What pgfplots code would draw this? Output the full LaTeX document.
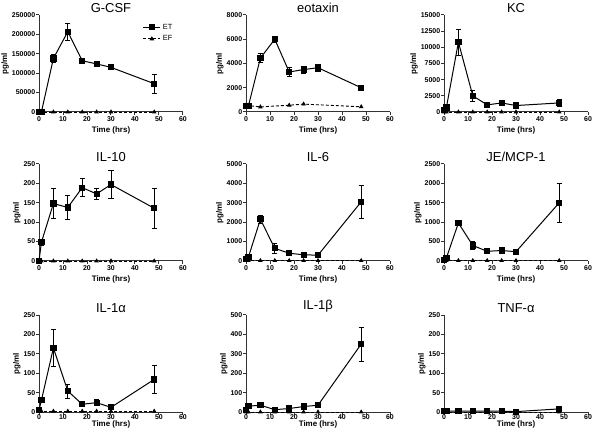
\documentclass[border=0pt]{standalone}
\usepackage{pgfplots}
\pgfplotsset{compat=1.18}
\usepackage{fontspec}
\setmainfont{Liberation Sans}
\pgfplotsset{
  panel/.style={
    scale only axis, width=144bp, height=97bp,
    axis lines=left, xmin=0, xmax=60, ymin=0,
    xtick={0,10,20,30,40,50,60},
    xticklabels={0,10,20,30,40,50,60},
    scaled y ticks=false, scaled x ticks=false,
    tick align=outside, major tick length=3bp,
    axis line style={line width=1pt, -, black!80},
    every tick/.style={line width=1pt, black!80},
    tick label style={font=\bfseries\fontsize{7}{8}\selectfont},
    yticklabel style={inner sep=0.6bp},
    xticklabel style={inner sep=1bp},
    label style={font=\bfseries\fontsize{8}{9}\selectfont},
    title style={font=\fontsize{13}{14}\selectfont, yshift=-7bp},
    xlabel={Time (hrs)}, ylabel={pg/ml},
    xlabel style={yshift=-1.5bp},
    ylabel style={yshift=-1bp},
    clip=false,
  },
  lastrow/.style={
    xticklabel style={yshift=1.5bp},
    xlabel style={yshift=5bp},
  },
  et/.style={black, solid, line width=1pt, mark=square*, mark size=2.6bp,
    mark options={solid},
    error bars/.cd, y dir=both, y explicit,
    error bar style={line width=0.8pt, solid},
    error mark options={rotate=90, mark size=2.6bp, line width=0.8pt}},
  ef/.style={black, dash pattern=on 3bp off 2bp, line width=0.9pt, mark=triangle*, mark size=1.8bp,
    mark options={solid}},
}
\begin{document}
\begin{tikzpicture}
\path[use as bounding box] (0bp,0bp) rectangle (593bp,435bp);
% ---------- Row 1 ----------
\begin{axis}[panel, at={(39bp,323bp)}, anchor=south west, title={G-CSF},
  ymax=250000, ytick={0,50000,100000,150000,200000,250000},
  yticklabels={0,50000,100000,150000,200000,250000},
  legend style={draw=none, fill=none, at={(0.72,0.93)}, anchor=north west,
    font=\fontsize{7.5}{8.5}\selectfont, row sep=1bp, inner sep=0pt},
  legend cell align=left]
\addplot[et] table[x=x,y=y,y error=e] {
x y e
0 0 0
1 0 0
6 138000 10000
12 207000 22000
18 132000 6000
24 124000 2000
30 115000 2000
48 73000 24000
};
\addlegendentry{ET}
\addplot[ef] table[x=x,y=y] {
x y
0 0
1 0
6 0
12 0
18 0
24 0
30 0
48 0
};
\addlegendentry{EF}
\end{axis}
\begin{axis}[panel, at={(246bp,323bp)}, anchor=south west, title={eotaxin},
  ymax=8000, ytick={0,2000,4000,6000,8000},
  yticklabels={0,2000,4000,6000,8000}]
\addplot[et] table[x=x,y=y,y error=e] {
x y e
0 500 0
1 500 0
6 4450 400
12 6000 250
18 3300 350
24 3500 300
30 3650 280
48 2000 150
};
\addplot[ef] table[x=x,y=y] {
x y
0 550
6 420
18 560
24 650
48 430
};
\end{axis}
\begin{axis}[panel, at={(444bp,323bp)}, anchor=south west, title={KC},
  ymax=15000, ytick={0,2500,5000,7500,10000,12500,15000},
  yticklabels={0,2500,5000,7500,10000,12500,15000}]
\addplot[et] table[x=x,y=y,y error=e] {
x y e
0 300 0
1 700 0
6 10800 2000
12 2500 900
18 1100 0
24 1400 200
30 1000 0
48 1400 600
};
\addplot[ef] table[x=x,y=y] {
x y
0 0
1 0
6 0
12 0
18 0
24 0
30 0
48 0
};
\end{axis}
% ---------- Row 2 ----------
\begin{axis}[panel, at={(39bp,174bp)}, anchor=south west, title={IL-10},
  ymax=250, ytick={0,50,100,150,200,250},
  yticklabels={0,50,100,150,200,250}]
\addplot[et] table[x=x,y=y,y error=e] {
x y e
0 0 0
1 48 8
6 148 38
12 138 30
18 189 23
24 173 15
30 197 36
48 136 52
};
\addplot[ef] table[x=x,y=y] {
x y
0 0
1 0
6 0
12 0
18 0
24 0
30 0
48 0
};
\end{axis}
\begin{axis}[panel, at={(246bp,174bp)}, anchor=south west, title={IL-6},
  ymax=5000, ytick={0,1000,2000,3000,4000,5000},
  yticklabels={0,1000,2000,3000,4000,5000}]
\addplot[et] table[x=x,y=y,y error=e] {
x y e
0 100 0
1 200 0
6 2150 200
12 650 250
18 400 0
24 320 0
30 300 0
48 3050 850
};
\addplot[ef] table[x=x,y=y] {
x y
0 20
1 20
6 20
12 20
18 20
24 20
30 20
48 20
};
\end{axis}
\begin{axis}[panel, at={(444bp,174bp)}, anchor=south west, title={JE/MCP-1},
  ymax=2500, ytick={0,500,1000,1500,2000,2500},
  yticklabels={0,500,1000,1500,2000,2500}]
\addplot[et] table[x=x,y=y,y error=e] {
x y e
0 30 0
1 80 0
6 980 0
12 400 100
18 250 0
24 270 0
30 240 0
48 1500 500
};
\addplot[ef] table[x=x,y=y] {
x y
0 10
1 10
6 10
12 10
18 10
24 10
30 10
48 10
};
\end{axis}
% ---------- Row 3 ----------
\begin{axis}[panel, lastrow, at={(39bp,23bp)}, anchor=south west, title={IL-1α},
  ymax=250, ytick={0,50,100,150,200,250},
  yticklabels={0,50,100,150,200,250}]
\addplot[et] table[x=x,y=y,y error=e] {
x y e
0 5 0
1 30 0
6 165 48
12 54 18
18 20 0
24 24 8
30 12 0
48 84 37
};
\addplot[ef] table[x=x,y=y] {
x y
0 2
1 2
6 2
12 2
18 2
24 2
30 2
48 2
};
\end{axis}
\begin{axis}[panel, lastrow, at={(246bp,23bp)}, anchor=south west, title={IL-1β},
  ymax=500, ytick={0,100,200,300,400,500},
  yticklabels={0,100,200,300,400,500}]
\addplot[et] table[x=x,y=y,y error=e] {
x y e
0 10 0
1 30 0
6 35 0
12 12 0
18 18 0
24 28 10
30 35 0
48 350 88
};
\addplot[ef] table[x=x,y=y] {
x y
0 0
1 0
6 0
12 0
18 0
24 0
30 0
48 0
};
\end{axis}
\begin{axis}[panel, lastrow, at={(444bp,23bp)}, anchor=south west, title={TNF-α},
  ymax=250, ytick={0,50,100,150,200,250},
  yticklabels={0,50,100,150,200,250}]
\addplot[et] table[x=x,y=y,y error=e] {
x y e
0 2 0
1 2 0
6 2 0
12 2 0
18 2 0
24 2 0
30 1 0
48 8 7
};
\addplot[ef] table[x=x,y=y] {
x y
0 0
1 0
6 0
12 0
18 0
24 0
30 0
48 0
};
\end{axis}
\end{tikzpicture}
\end{document}
